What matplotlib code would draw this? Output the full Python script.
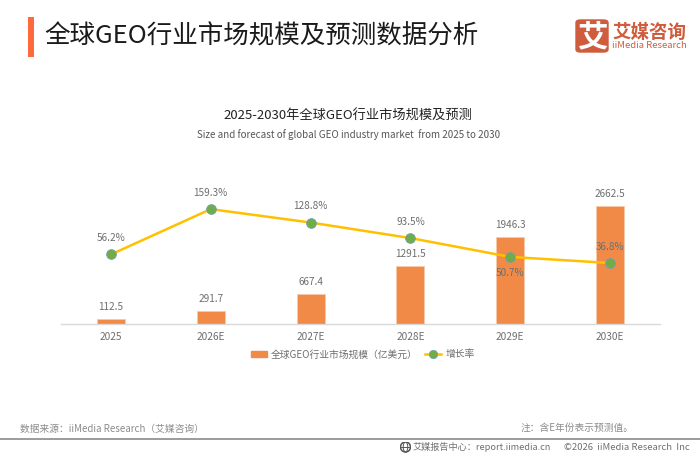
import matplotlib
matplotlib.use("Agg")
import matplotlib.pyplot as plt
from matplotlib.patches import Rectangle, FancyBboxPatch
from matplotlib.lines import Line2D

plt.rcParams['font.family'] = ['Noto Sans CJK SC', 'DejaVu Sans']

years = ['2025', '2026E', '2027E', '2028E', '2029E', '2030E']
market = [112.5, 291.7, 667.4, 1291.5, 1946.3, 2662.5]
growth = [56.2, 159.3, 128.8, 93.5, 50.7, 36.8]
growth_above = [True, True, True, True, False, True]

W, H = 700, 455
BAR = '#F08A46'
LINE = '#FFC000'
DOT = '#70AD47'
GRAY = '#6E6E6E'
fig = plt.figure(figsize=(7, 4.55), dpi=100, facecolor='white')

def fx(x): return x / W
def fy(y): return 1 - y / H

ax = fig.add_axes([fx(61), fy(323.5), 599 / W, 143.5 / H])
ax.set_xlim(-0.5, 5.5)
ax.set_ylim(0, 3238)
ax.patch.set_alpha(0)
xs = list(range(len(years)))
ax.bar(xs, market, width=0.28, color=BAR, edgecolor='#F8C9A8', linewidth=0.6, zorder=2)
for s in ['top', 'left', 'right']:
    ax.spines[s].set_visible(False)
ax.spines['bottom'].set_color('#D9D9D9')
ax.spines['bottom'].set_linewidth(1)
ax.set_yticks([])
ax.set_xticks(xs, years)
ax.tick_params(axis='x', length=0, pad=6, labelsize=7.3, labelcolor=GRAY)
for x, v in zip(xs, market):
    ax.annotate(f'{v}', (x, v), xytext=(0, 5), textcoords='offset points', ha='center',
                va='bottom', fontsize=7.2, color=GRAY, zorder=5)

ax2 = ax.twinx()
ax2.set_ylim(-100.7, 225.5)
ax2.axis('off')
ax2.plot(xs, growth, color=LINE, lw=1.8, marker='o', ms=7, mfc=DOT, mec='#6F9FB5',
         mew=0.6, zorder=4)
for x, v, up in zip(xs, growth, growth_above):
    ax2.annotate(f'{v}%', (x, v), xytext=(0, 8 if up else -8), textcoords='offset points',
                 ha='center', va='bottom' if up else 'top', fontsize=7.2, color=GRAY, zorder=5)

# Header
fig.add_artist(Rectangle((fx(28), fy(57)), 6 / W, 40 / H, transform=fig.transFigure,
                         color='#FF6A3C', lw=0))
fig.text(fx(44), fy(36), '全球GEO行业市场规模及预测数据分析', fontsize=18.4, color='#1A1A1A',
         va='center', ha='left')

# Logo
fig.add_artist(FancyBboxPatch((fx(576), fy(52)), 32 / W, 32 / H,
                              boxstyle='round,pad=0,rounding_size=0.006',
                              transform=fig.transFigure, fc='#CF5C3C', ec='#CF5C3C', lw=1))
fig.text(fx(592), fy(37), '艾', fontsize=22, color='white', ha='center', va='center',
         fontweight='bold')
fig.text(fx(612), fy(32), '艾媒咨询', fontsize=13.3, color='#CF5C3C', ha='left', va='center',
         fontweight='bold')
fig.text(fx(612), fy(46), 'iiMedia Research', fontsize=6.8, color='#CF5C3C', ha='left', va='center')

# Titles
fig.text(fx(347.5), fy(116), '2025-2030年全球GEO行业市场规模及预测', fontsize=9.5, color='#222222',
         ha='center', va='center')
fig.text(fx(348.5), fy(135), 'Size and forecast of global GEO industry market  from 2025 to 2030',
         fontsize=7.05, color='#555555', ha='center', va='center')

# Legend
handles = [Rectangle((0, 0), 1, 1, color=BAR),
           Line2D([0], [0], color=LINE, lw=1.8, marker='o', ms=6, mfc=DOT, mec='#6F9FB5', mew=0.5)]
fig.legend(handles, ['全球GEO行业市场规模（亿美元）', '增长率'], loc='center',
           bbox_to_anchor=(fx(362.5), fy(354.5)), ncol=2, frameon=False, fontsize=7.05,
           labelcolor=GRAY, handlelength=1.7, handletextpad=0.4, columnspacing=0.7,
           handleheight=0.5)

# Footer
fig.text(fx(20), fy(429), '数据来源：iiMedia Research（艾媒咨询）', fontsize=7, color='#8C8C8C',
         ha='left', va='center')
fig.text(fx(521), fy(427.5), '注：含E年份表示预测值。', fontsize=7, color='#8C8C8C',
         ha='left', va='center')
fig.add_artist(Line2D([0, 1], [fy(439), fy(439)], transform=fig.transFigure, color='#8A8A8A', lw=1.2))
# globe icon: a square-aspect axes so the circle stays round
icon = fig.add_axes([fx(400), fy(452.5), 11 / W, 11 / H])
icon.set_xlim(-1.1, 1.1)
icon.set_ylim(-1.1, 1.1)
icon.axis('off')
icon.add_patch(plt.Circle((0, 0), 1, fc='none', ec='#555555', lw=1.1))
icon.add_patch(matplotlib.patches.Ellipse((0, 0), 0.9, 2, fc='none', ec='#555555', lw=0.7))
icon.plot([-1, 1], [0, 0], color='#555555', lw=0.7)
fig.text(fx(413), fy(447), '艾媒报告中心：report.iimedia.cn', fontsize=6.6, color='#707070',
         ha='left', va='center')
fig.text(fx(564), fy(447), '©2026  iiMedia Research  Inc', fontsize=6.8, color='#707070',
         ha='left', va='center')

fig.savefig('out.png', dpi=100)
